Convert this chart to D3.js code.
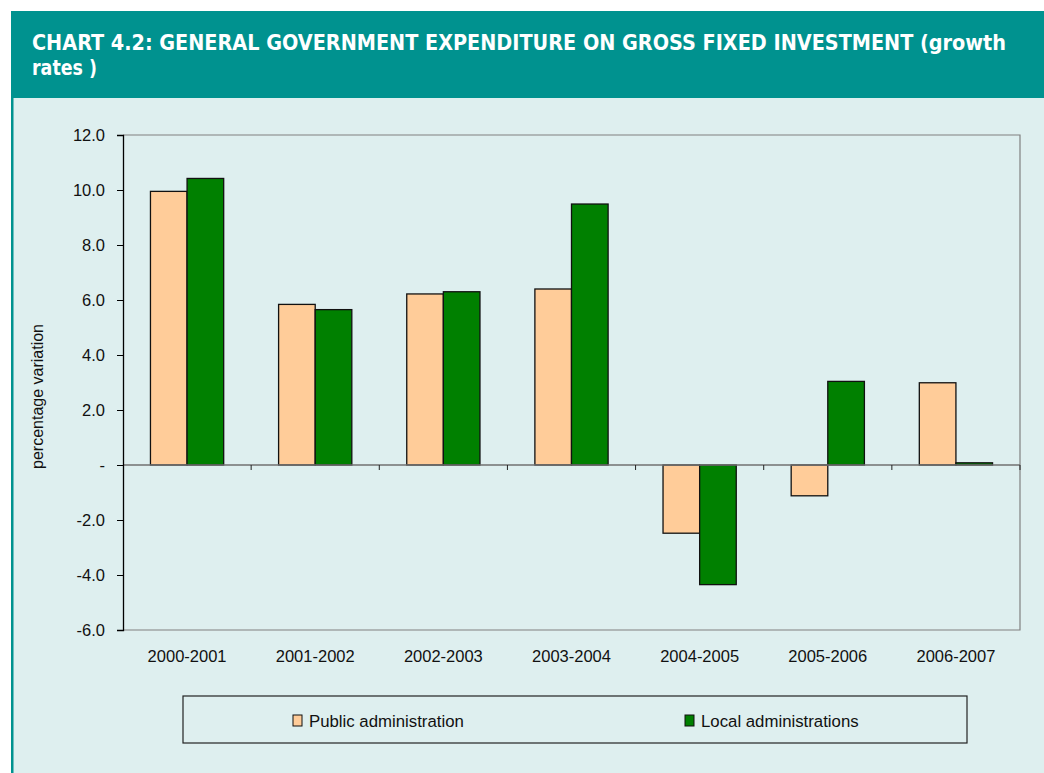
<!DOCTYPE html>
<html>
<head>
<meta charset="utf-8">
<script src="https://cdn.jsdelivr.net/npm/d3@7"></script>
<style>
  html, body { margin: 0; padding: 0; background: #ffffff; }
  svg { display: block; }
</style>
</head>
<body>
<svg id="chart" width="1044" height="773"></svg>
<script>
// Growth rates of general government gross fixed investment (%)
const periods = ["2000-2001", "2001-2002", "2002-2003", "2003-2004", "2004-2005", "2005-2006", "2006-2007"];
const publicAdmin = [9.95, 5.84, 6.22, 6.40, -2.48, -1.12, 2.99];
const localAdmin = [10.42, 5.65, 6.30, 9.49, -4.35, 3.04, 0.08];
const seriesNames = ["Public administration", "Local administrations"];
const seriesColors = ["#FFCC99", "#008000"];
const yTicks = [-6, -4, -2, 0, 2, 4, 6, 8, 10, 12];
const titleLines = ["CHART 4.2: GENERAL GOVERNMENT EXPENDITURE ON GROSS FIXED INVESTMENT (growth", "rates )"];

const svg = d3.select("#chart");
const W = 1044, H = 773;
const labelFont = "'Liberation Sans', Arial, sans-serif";

// Header band and panel
svg.append("rect").attr("x", 11).attr("y", 11).attr("width", W - 11).attr("height", 87).attr("fill", "#00928F");
svg.append("rect").attr("x", 11).attr("y", 98).attr("width", W - 11).attr("height", H - 98).attr("fill", "#DEEFEF");
svg.append("rect").attr("x", 11).attr("y", 98).attr("width", 2.5).attr("height", H - 98).attr("fill", "#00928F");

const titleWidths = [974, 65];
svg.append("g").selectAll("text").data(titleLines).join("text")
  .attr("x", 32)
  .attr("y", (d, i) => 50 + i * 25)
  .attr("fill", "#ffffff")
  .attr("font-family", "'DejaVu Sans Condensed', 'DejaVu Sans', sans-serif")
  .attr("font-weight", "bold")
  .attr("font-size", 21.5)
  .attr("textLength", (d, i) => titleWidths[i])
  .attr("lengthAdjust", "spacingAndGlyphs")
  .text(d => d);

// Plot area
const plotLeft = 123, plotRight = 1020, plotTop = 135, plotBottom = 630;
const x = d3.scaleBand().domain(periods).range([plotLeft, plotRight]).paddingInner(0).paddingOuter(0);
const y = d3.scaleLinear().domain([-6, 12]).range([plotBottom, plotTop]);
const xs = d3.scaleBand().domain(seriesNames).range([0, x.bandwidth()])
  .paddingInner(0).paddingOuter(0.75);

// Plot frame (grey) on top/right/bottom
svg.append("path")
  .attr("d", `M${plotLeft},${plotTop}H${plotRight}V${plotBottom}H${plotLeft}`)
  .attr("fill", "none").attr("stroke", "#808080").attr("stroke-width", 1.2);

const data = periods.map((p, i) => ({ period: p, values: [publicAdmin[i], localAdmin[i]] }));

const groups = svg.append("g").selectAll("g").data(data).join("g")
  .attr("transform", d => `translate(${x(d.period)},0)`);
groups.selectAll("rect").data(d => d.values.map((v, k) => ({ v, k })))
  .join("rect")
  .attr("x", d => xs(seriesNames[d.k]))
  .attr("width", xs.bandwidth())
  .attr("y", d => y(Math.max(0, d.v)))
  .attr("height", d => Math.abs(y(d.v) - y(0)))
  .attr("fill", d => seriesColors[d.k])
  .attr("stroke", "#111111")
  .attr("stroke-width", 1.3);

// Zero line with category ticks
svg.append("line").attr("x1", plotLeft).attr("x2", plotRight).attr("y1", y(0)).attr("y2", y(0))
  .attr("stroke", "#707070").attr("stroke-width", 1.3);
svg.append("g").selectAll("line").data(d3.range(1, periods.length + 1))
  .join("line")
  .attr("x1", d => plotLeft + d * x.bandwidth())
  .attr("x2", d => plotLeft + d * x.bandwidth())
  .attr("y1", y(0)).attr("y2", y(0) + 5)
  .attr("stroke", "#222").attr("stroke-width", 1);

// Y axis
const yAxis = d3.axisLeft(y).tickValues(yTicks).tickSize(6).tickPadding(12)
  .tickFormat(d => d === 0 ? "-" : (d < 0 ? "-" : "") + Math.abs(d).toFixed(1));
const ya = svg.append("g").attr("transform", `translate(${plotLeft},0)`).call(yAxis);
ya.select(".domain").attr("stroke", "#000").attr("stroke-width", 1.3);
ya.selectAll(".tick line").attr("stroke", "#000");
ya.selectAll(".tick text").attr("fill", "#111").attr("font-family", labelFont).attr("font-size", 16.5);

// Category labels
svg.append("g").selectAll("text").data(periods).join("text")
  .attr("x", d => x(d) + x.bandwidth() / 2)
  .attr("y", 662)
  .attr("text-anchor", "middle")
  .attr("fill", "#111")
  .attr("font-family", labelFont)
  .attr("font-size", 16.5)
  .text(d => d);

// Y axis title
svg.append("text")
  .attr("transform", `translate(43,${(plotTop + plotBottom) / 2 + 14}) rotate(-90)`)
  .attr("text-anchor", "middle")
  .attr("fill", "#111")
  .attr("font-family", labelFont)
  .attr("font-size", 16)
  .text("percentage variation");

// Legend
svg.append("rect").attr("x", 183).attr("y", 696).attr("width", 784).attr("height", 47)
  .attr("fill", "none").attr("stroke", "#222").attr("stroke-width", 1.2);
const legendX = [293, 685];
const leg = svg.append("g").selectAll("g").data(seriesNames).join("g")
  .attr("transform", (d, i) => `translate(${legendX[i]},715)`);
leg.append("rect").attr("width", 9).attr("height", 11)
  .attr("fill", (d, i) => seriesColors[i]).attr("stroke", "#111").attr("stroke-width", 1);
leg.append("text").attr("x", 16).attr("y", 12)
  .attr("fill", "#111")
  .attr("font-family", labelFont)
  .attr("font-size", 16.8)
  .text(d => d);
</script>
</body>
</html>
